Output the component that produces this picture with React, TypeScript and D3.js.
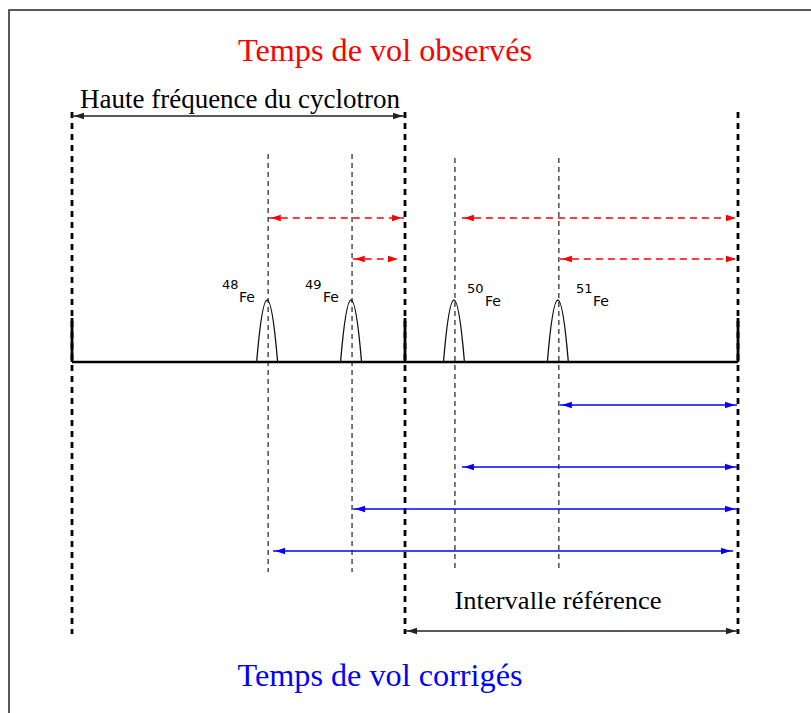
import React from "react";
import * as d3 from "d3";

// Time expressed in cyclotron HF periods
const PERIOD_MARKS = [0, 1, 2];
const ISOTOPES = ["48", "49", "50", "51"];
const PEAK_TIMES = [0.589, 0.841, 1.15, 1.462];

// Observed (red) intervals: start / end in HF periods, row index
const OBS_START = [0.591, 0.843, 1.171, 1.465];
const OBS_END = [0.997, 0.985, 2.0, 2.0];
const OBS_ROW = [0, 1, 0, 1];

// Corrected (blue) intervals
const COR_START = [0.604, 0.844, 1.171, 1.465];
const COR_END = [1.985, 1.997, 1.997, 1.997];
const COR_ROW = [3, 2, 1, 0];

const TITLE_TOP = "Temps de vol observés";
const TITLE_BOTTOM = "Temps de vol corrigés";
const HF_LABEL = "Haute fréquence du cyclotron";
const REF_LABEL = "Intervalle référence";

function arrowHead(tipX: number, y: number, dir: number) {
  const p = d3.path();
  p.moveTo(tipX, y);
  p.lineTo(tipX + dir * 10, y - 3.2);
  p.lineTo(tipX + dir * 10, y + 3.2);
  p.closePath();
  return p.toString();
}

function peakPath(cx: number, base: number, top: number, hw: number) {
  const p = d3.path();
  p.moveTo(cx - hw, base);
  p.quadraticCurveTo(cx, 2 * top - base, cx + hw, base);
  return p.toString();
}

function Arrow({ x1, x2, y, color, dash, width }: any) {
  return (
    <g>
      <line x1={x1} x2={x2} y1={y} y2={y} stroke={color} strokeWidth={width} strokeDasharray={dash} />
      <path d={arrowHead(x1 + 2, y, 1)} fill={color} />
      <path d={arrowHead(x2 - 2, y, -1)} fill={color} />
    </g>
  );
}

export default function App() {
  const W = 811, H = 713;
  const x = d3.scaleLinear().domain([0, 2]).range([72, 738]);
  const baseY = 362;
  const peakTop = 300;
  const obsRowY = [218, 259];
  const corRowY = [405, 467, 509, 551];
  const labelLayout = [
    { mx: 222, my: 289, fx: 239, fy: 302 },
    { mx: 305, my: 289, fx: 323, fy: 302 },
    { mx: 467, my: 293, fx: 485, fy: 306 },
    { mx: 576, my: 293, fx: 593, fy: 306 },
  ];
  const thinTop = [154, 154, 158, 158];

  return (
    <svg width={W} height={H} style={{ position: "absolute", left: 0, top: 0, background: "#fff" }}>
      <rect x={0} y={0} width={W} height={H} fill="#fff" />
      <rect x={9} y={10} width={900} height={900} fill="none" stroke="#222" strokeWidth={1.5} />

      <text x={385} y={61} textAnchor="middle" fontFamily="Liberation Serif" fontSize={31} fill="#ff0000"
        textLength={294} lengthAdjust="spacingAndGlyphs">{TITLE_TOP}</text>
      <text x={380} y={686} textAnchor="middle" fontFamily="Liberation Serif" fontSize={31} fill="#0000ff"
        textLength={285} lengthAdjust="spacingAndGlyphs">{TITLE_BOTTOM}</text>

      <text x={240} y={108} textAnchor="middle" fontFamily="Liberation Serif" fontSize={27} fill="#000"
        textLength={320} lengthAdjust="spacingAndGlyphs">{HF_LABEL}</text>
      <text x={558} y={609} textAnchor="middle" fontFamily="Liberation Serif" fontSize={26} fill="#000"
        textLength={207} lengthAdjust="spacingAndGlyphs">{REF_LABEL}</text>

      {/* thin dashed verticals at peaks */}
      {PEAK_TIMES.map((t, i) => (
        <line key={"v" + i} x1={x(t)} x2={x(t)} y1={thinTop[i]} y2={572} stroke="#222" strokeWidth={1.2} strokeDasharray="5,4" />
      ))}

      {/* thick dashed period markers */}
      {PERIOD_MARKS.map((t, i) => (
        <g key={"m" + i}>
          <line x1={x(t)} x2={x(t)} y1={112} y2={634} stroke="#000" strokeWidth={2.8} strokeDasharray="6,5" />
          <line x1={x(t)} x2={x(t)} y1={318} y2={baseY} stroke="#000" strokeWidth={2.8} />
        </g>
      ))}

      {/* baseline */}
      <line x1={x(0)} x2={x(2)} y1={baseY} y2={baseY} stroke="#000" strokeWidth={2.6} />

      {/* peaks */}
      {PEAK_TIMES.map((t, i) => (
        <path key={"p" + i} d={peakPath(x(t) - 1, baseY, peakTop, 10.5)} fill="none" stroke="#111" strokeWidth={1.3} />
      ))}

      {/* labels */}
      {ISOTOPES.map((m, i) => (
        <g key={"l" + i} fontFamily="DejaVu Sans" fill="#000">
          <text x={labelLayout[i].mx} y={labelLayout[i].my} fontSize={13}>{m}</text>
          <text x={labelLayout[i].fx} y={labelLayout[i].fy} fontSize={14}>Fe</text>
        </g>
      ))}

      {/* observed (red dashed) */}
      {OBS_START.map((s, i) => (
        <Arrow key={"o" + i} x1={x(s)} x2={x(OBS_END[i])} y={obsRowY[OBS_ROW[i]]} color="#ff0000" dash="7,5" width={1.5} />
      ))}

      {/* corrected (blue) */}
      {COR_START.map((s, i) => (
        <Arrow key={"c" + i} x1={x(s)} x2={x(COR_END[i])} y={corRowY[COR_ROW[i]]} color="#0000ff" width={1.6} />
      ))}

      {/* HF and reference interval arrows */}
      <Arrow x1={x(0)} x2={x(1)} y={116} color="#222" width={1.6} />
      <Arrow x1={x(1)} x2={x(2)} y={631} color="#222" width={1.6} />
    </svg>
  );
}
